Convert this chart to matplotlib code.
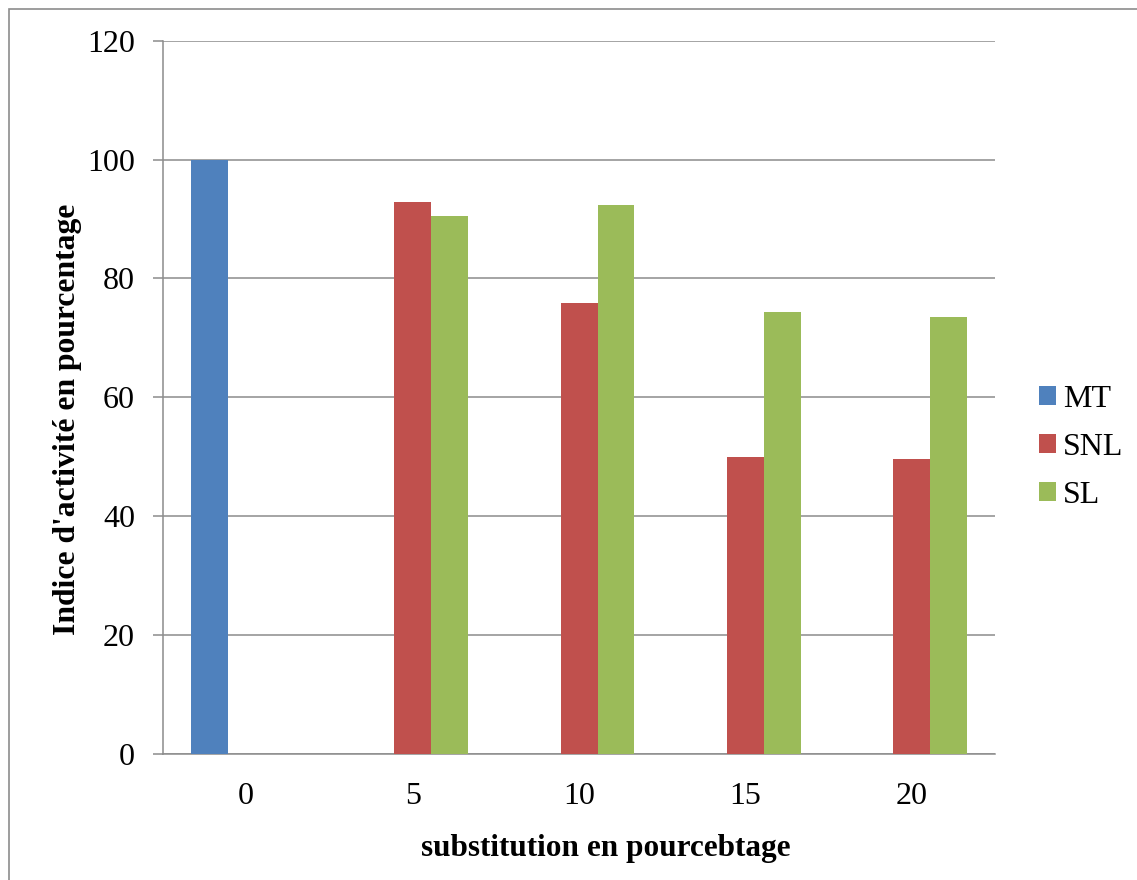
import numpy as np
import matplotlib.pyplot as plt
from matplotlib.patches import Rectangle

categories = ["0", "5", "10", "15", "20"]
series_names = ["MT", "SNL", "SL"]
mt = [100, 0, 0, 0, 0]
snl = [0, 92.8, 75.9, 49.9, 49.7]
sl = [0, 90.5, 92.3, 74.3, 73.5]
colors = ["#4F81BD", "#C0504D", "#9BBB59"]

plt.rcParams["font.family"] = ["Liberation Serif", "DejaVu Serif"]

fig = plt.figure(figsize=(11.37, 8.8), dpi=100)
ax = fig.add_axes([0.1434, 0.1432, 0.7317, 0.8106])

x = np.arange(len(categories))
w = 1 / 4.5
for i, (name, vals, c) in enumerate(zip(series_names, [mt, snl, sl], colors)):
    ax.bar(x + (i - 1) * w, vals, width=w, color=c, label=name, zorder=3)

ax.set_xlim(-0.5, len(categories) - 0.5)
ax.set_ylim(0, 120)
ax.set_yticks(range(0, 121, 20))
ax.set_xticks(x)
ax.set_xticklabels(categories)

grey = "#8c8c8c"
ax.grid(axis="y", color=grey, linewidth=1.1, zorder=0)
for side in ["top", "right"]:
    ax.spines[side].set_visible(False)
for side in ["left", "bottom"]:
    ax.spines[side].set_color(grey)
    ax.spines[side].set_linewidth(1.1)
ax.spines["left"].set_zorder(4)

ax.tick_params(axis="y", length=7.2, width=1.1, color=grey, pad=13, labelsize=23)
ax.tick_params(axis="x", length=0, pad=20, labelsize=23)

fig.text(0.059, 0.523, "Indice d'activité en pourcentage", rotation=90,
         ha="center", va="center", fontsize=22.8, fontweight="bold")
fig.text(0.533, 0.036, "substitution en pourcebtage",
         ha="center", va="center", fontsize=22.5, fontweight="bold")

ax.legend(loc="center left", bbox_to_anchor=(1.018, 0.43), frameon=False,
          fontsize=23, handlelength=0.55, handleheight=0.55,
          handletextpad=0.2, labelspacing=0.6)

# outer chart border
fig.patches.append(Rectangle((9 / 1137, -0.1), 1.2, 1 - 9 / 880 + 0.1,
                             transform=fig.transFigure, fill=False,
                             edgecolor="#8c8c8c", linewidth=1.2))

fig.savefig("out.png", dpi=100)
